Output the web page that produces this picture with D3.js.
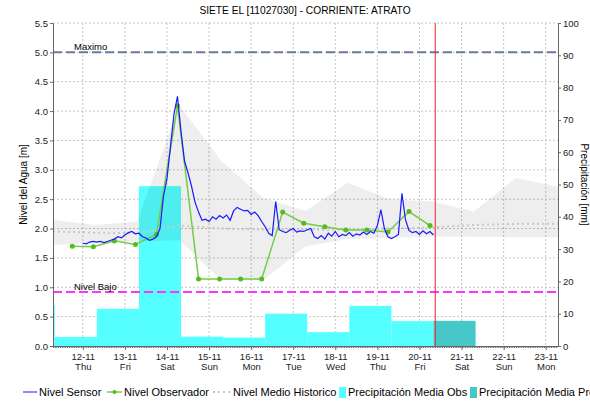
<!DOCTYPE html>
<html>
<head>
<meta charset="utf-8">
<script src="https://cdn.jsdelivr.net/npm/d3@7"></script>
<style>
  body { margin: 0; background: #fff; }
  text { font-family: "Liberation Sans", Arial, sans-serif; }
</style>
</head>
<body>
<svg width="590" height="401"></svg>
<script>
// ---- data ----
const title = "SIETE EL [11027030] - CORRIENTE: ATRATO";
const domainStart = "2020-11-11T07:00", domainEnd = "2020-11-23T07:00";
const nowTime = "2020-11-20T09:00";

// sensor, every 2 hours from 12-11 00:00
const sensorStart = "2020-11-12T00:00";
const sensorValues = [1.75,1.74,1.77,1.78,1.77,1.78,1.76,1.78,1.80,1.82,1.86,1.84,
  1.89,1.93,1.95,1.91,1.92,1.86,1.84,1.80,1.82,1.86,2.00,2.55,
  2.85,3.40,3.95,4.25,3.65,3.15,2.95,2.72,2.45,2.28,2.14,2.16,
  2.12,2.20,2.16,2.22,2.18,2.23,2.14,2.30,2.36,2.33,2.30,2.31,
  2.24,2.28,2.22,2.12,2.03,1.92,1.88,2.46,1.98,1.95,1.93,1.97,
  2.00,1.94,1.96,1.95,1.98,2.00,1.86,1.83,1.88,1.82,1.92,1.87,
  1.95,1.86,1.90,1.88,1.93,1.87,1.91,1.89,1.94,1.90,1.95,1.92,
  2.05,2.32,2.00,1.86,1.83,1.86,1.90,2.60,2.15,1.97,1.93,1.95,
  1.90,1.96,1.91,1.95,1.89];

const obsTimes = ["2020-11-11T18:00","2020-11-12T06:00","2020-11-12T18:00","2020-11-13T06:00",
  "2020-11-13T18:00","2020-11-14T06:00","2020-11-14T18:00","2020-11-15T06:00","2020-11-15T18:00",
  "2020-11-16T06:00","2020-11-16T18:00","2020-11-17T06:00","2020-11-17T18:00","2020-11-18T06:00",
  "2020-11-18T18:00","2020-11-19T06:00","2020-11-19T18:00","2020-11-20T06:00"];
const obsValues = [1.70,1.69,1.79,1.73,1.90,4.09,1.14,1.14,1.14,1.14,2.28,2.09,2.03,1.975,1.975,1.94,2.29,2.05];

// historic band, daily at 07:00
const histDays = ["2020-11-11T07:00","2020-11-12T07:00","2020-11-13T07:00","2020-11-14T07:00",
  "2020-11-15T07:00","2020-11-16T07:00","2020-11-17T07:00","2020-11-18T07:00","2020-11-19T07:00",
  "2020-11-20T07:00","2020-11-21T07:00","2020-11-22T07:00","2020-11-23T07:00"];
const histUpper  = [2.15,2.06,2.12,4.10,3.15,2.52,2.30,2.78,2.50,2.46,2.29,2.86,2.71];
const histLower  = [1.72,1.76,1.78,1.80,1.12,1.12,1.70,1.82,1.84,1.86,1.86,1.85,1.85];
const histMedian = [1.95,1.93,1.92,2.05,2.00,1.98,1.98,1.98,2.00,2.02,2.06,2.08,2.08];

// daily precipitation, each bar starts 08:00
const precipDays = ["2020-11-10T08:00","2020-11-11T08:00","2020-11-12T08:00","2020-11-13T08:00",
  "2020-11-14T08:00","2020-11-15T08:00","2020-11-16T08:00","2020-11-17T08:00","2020-11-18T08:00",
  "2020-11-19T08:00"];
const precipValues = [12.7,2.8,11.5,49.5,2.9,2.6,10.0,4.3,12.4,7.7];
const forecastDays = ["2020-11-20T08:00"];
const forecastValues = [7.8];

const maximo = 5.0, nivelBajo = 0.92;
const levelTicks = [0,0.5,1,1.5,2,2.5,3,3.5,4,4.5,5,5.5];
const precipTicks = [0,10,20,30,40,50,60,70,80,90,100];

// ---- chart ----
const parse = d3.utcParse("%Y-%m-%dT%H:%M");
const svg = d3.select("svg");
const mLeft = 53, mRight = 558, mTop = 23, mBottom = 346;

const x = d3.scaleUtc().domain([parse(domainStart), parse(domainEnd)]).range([mLeft, mRight]);
const y = d3.scaleLinear().domain([0, 5.5]).range([mBottom, mTop]);
const yP = d3.scaleLinear().domain([0, 100]).range([mBottom, mTop]);

svg.append("defs").append("clipPath").attr("id", "plot")
  .append("rect").attr("x", mLeft).attr("y", mTop).attr("width", mRight - mLeft).attr("height", mBottom - mTop);

const days = x.ticks(d3.utcDay);

// grid
const grid = svg.append("g").attr("stroke", "#c4c4c4").attr("stroke-dasharray", "2,2");
grid.selectAll(".h").data(levelTicks.slice(1)).join("line")
  .attr("x1", mLeft).attr("x2", mRight).attr("y1", d => y(d)).attr("y2", d => y(d));
grid.selectAll(".v").data(days).join("line")
  .attr("x1", d => x(d)).attr("x2", d => x(d)).attr("y1", mTop).attr("y2", mBottom);

const plot = svg.append("g").attr("clip-path", "url(#plot)");

// precipitation bars
const dayEnd = d => d3.utcDay.offset(d, 1);
plot.selectAll(".pobs").data(precipDays.map((d, i) => [parse(d), precipValues[i]])).join("rect")
  .attr("x", d => x(d[0])).attr("width", d => x(dayEnd(d[0])) - x(d[0]))
  .attr("y", d => yP(d[1])).attr("height", d => yP(0) - yP(d[1]))
  .attr("fill", "#55ffff");
plot.selectAll(".pfor").data(forecastDays.map((d, i) => [parse(d), forecastValues[i]])).join("rect")
  .attr("x", d => x(d[0])).attr("width", d => x(dayEnd(d[0])) - x(d[0]))
  .attr("y", d => yP(d[1])).attr("height", d => yP(0) - yP(d[1]))
  .attr("fill", "#47c8c8");

// historic band and median
const hist = histDays.map((d, i) => ({t: parse(d), hi: histUpper[i], lo: histLower[i], med: histMedian[i]}));
plot.append("path").datum(hist)
  .attr("d", d3.area().x(d => x(d.t)).y0(d => y(d.lo)).y1(d => y(d.hi)))
  .attr("fill", "#000").attr("fill-opacity", 0.065);

// thresholds
plot.append("line").attr("x1", mLeft).attr("x2", mRight).attr("y1", y(maximo)).attr("y2", y(maximo))
  .attr("stroke", "#6a78a8").attr("stroke-width", 2).attr("stroke-dasharray", "9,4");
plot.append("line").attr("x1", mLeft).attr("x2", mRight).attr("y1", y(nivelBajo)).attr("y2", y(nivelBajo))
  .attr("stroke", "#ff33ff").attr("stroke-width", 2).attr("stroke-dasharray", "9,4");
svg.append("text").attr("x", 74).attr("y", y(maximo) - 2).attr("font-size", 9.5).text("Maximo");
svg.append("text").attr("x", 74).attr("y", y(nivelBajo) - 2).attr("font-size", 9.5).text("Nivel Bajo");

plot.append("path").datum(hist)
  .attr("d", d3.line().x(d => x(d.t)).y(d => y(d.med)))
  .attr("fill", "none").attr("stroke", "#c8c8c8").attr("stroke-width", 2).attr("stroke-dasharray", "2,3");

// observer
const obs = obsTimes.map((d, i) => [parse(d), obsValues[i]]);
plot.append("path").datum(obs)
  .attr("d", d3.line().x(d => x(d[0])).y(d => y(d[1])))
  .attr("fill", "none").attr("stroke", "#77cc44").attr("stroke-width", 1.5);
plot.selectAll(".obs").data(obs).join("circle")
  .attr("cx", d => x(d[0])).attr("cy", d => y(d[1])).attr("r", 2.5).attr("fill", "#55bb22");

// sensor
const s0 = parse(sensorStart);
const sensor = sensorValues.map((v, i) => [d3.utcHour.offset(s0, 2 * i), v]);
plot.append("path").datum(sensor)
  .attr("d", d3.line().x(d => x(d[0])).y(d => y(d[1])))
  .attr("fill", "none").attr("stroke", "#1a1aff").attr("stroke-width", 1.2);

// current time
svg.append("line").attr("x1", x(parse(nowTime))).attr("x2", x(parse(nowTime)))
  .attr("y1", mTop).attr("y2", mBottom).attr("stroke", "#ff2020").attr("stroke-width", 1);

// axes
const axisColor = "#666";
const gl = svg.append("g").attr("transform", `translate(${mLeft},0)`)
  .call(d3.axisLeft(y).tickValues(levelTicks).tickFormat(d3.format(".1f")).tickSize(3).tickSizeOuter(0));
const gr = svg.append("g").attr("transform", `translate(${mRight},0)`)
  .call(d3.axisRight(yP).tickValues(precipTicks).tickSize(3).tickSizeOuter(0));
const gb = svg.append("g").attr("transform", `translate(0,${mBottom})`)
  .call(d3.axisBottom(x).tickValues(days).tickFormat(d3.utcFormat("%d-%m")).tickSize(4).tickSizeOuter(0));
svg.append("g").attr("transform", `translate(0,${mBottom})`)
  .call(d3.axisBottom(x).tickValues(d3.utcHour.range(...x.domain())).tickFormat("").tickSize(2).tickSizeOuter(0))
  .call(g => g.select(".domain").remove())
  .selectAll("line").attr("stroke", axisColor);

[gl, gr, gb].forEach(g => {
  g.attr("font-family", null).attr("font-size", 9.5);
  g.selectAll("line, path").attr("stroke", axisColor);
  g.selectAll("text").attr("fill", "#222");
});
gl.selectAll(".tick text").attr("x", -5);
gr.selectAll(".tick text").attr("x", 5);
gb.selectAll(".tick text").attr("dy", "0.85em").attr("y", 6)
  .append("tspan").attr("x", 0).attr("dy", "1.05em").text(d => d3.utcFormat("%a")(d));

// titles
svg.append("text").attr("x", 305).attr("y", 14).attr("text-anchor", "middle").attr("font-size", 10.2)
  .text(title);
svg.append("text").attr("transform", `translate(27,${(mTop + mBottom) / 2}) rotate(-90)`)
  .attr("text-anchor", "middle").attr("font-size", 10).text("Nivel del Agua [m]");
svg.append("text").attr("transform", `translate(581,${(mTop + mBottom) / 2}) rotate(90)`)
  .attr("text-anchor", "middle").attr("font-size", 10).text("Precipitación [mm]");

// legend
const lg = svg.append("g").attr("font-size", 11);
const ly = 392;
lg.append("line").attr("x1", 23).attr("x2", 37).attr("y1", ly).attr("y2", ly).attr("stroke", "#1a1aff");
lg.append("text").attr("x", 39).attr("y", ly + 4).text("Nivel Sensor");
lg.append("line").attr("x1", 107).attr("x2", 122).attr("y1", ly).attr("y2", ly).attr("stroke", "#77cc44").attr("stroke-width", 1.5);
lg.append("circle").attr("cx", 114.5).attr("cy", ly).attr("r", 2).attr("fill", "#55bb22");
lg.append("text").attr("x", 124).attr("y", ly + 4).text("Nivel Observador");
lg.append("line").attr("x1", 213).attr("x2", 230).attr("y1", ly).attr("y2", ly)
  .attr("stroke", "#c8c8c8").attr("stroke-width", 2).attr("stroke-dasharray", "2,3");
lg.append("text").attr("x", 233).attr("y", ly + 4).text("Nivel Medio Historico");
lg.append("rect").attr("x", 339).attr("y", ly - 5).attr("width", 7).attr("height", 11).attr("fill", "#55ffff");
lg.append("text").attr("x", 348).attr("y", ly + 4).text("Precipitación Media Obs");
lg.append("rect").attr("x", 470).attr("y", ly - 5).attr("width", 7).attr("height", 11).attr("fill", "#47c8c8");
lg.append("text").attr("x", 479).attr("y", ly + 4).text("Precipitación Media Pro");
</script>
</body>
</html>
